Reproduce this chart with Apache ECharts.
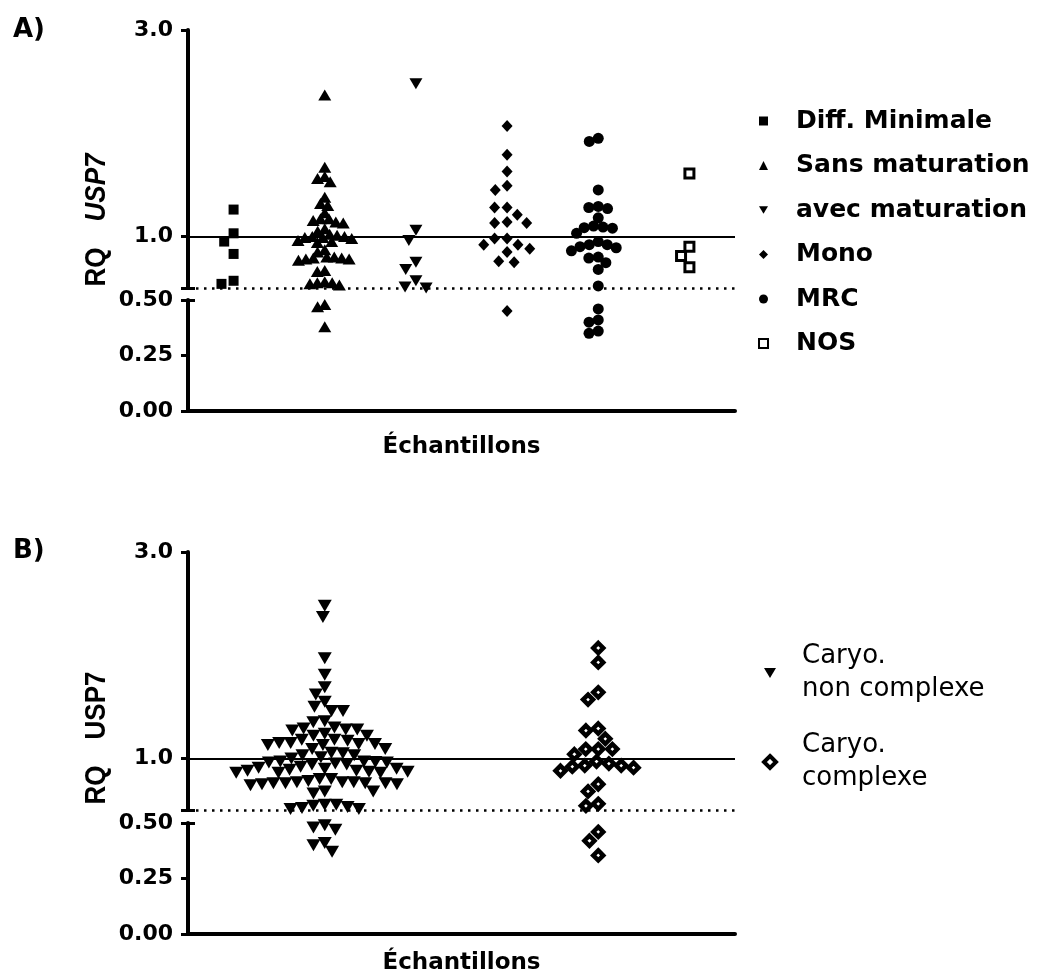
<!DOCTYPE html>
<html>
<head>
<meta charset="utf-8">
<title>RQ USP7</title>
<script src="https://cdn.jsdelivr.net/npm/echarts@6.0.0/dist/echarts.min.js"></script>
<style>
  html, body { margin: 0; padding: 0; background: #fff; }
  #chart { width: 1054px; height: 979px; }
</style>
</head>
<body>
<div id="chart"></div>
<script>
// ---- données (RQ) ----
// A) sous-types
const groupsA = ['Diff. Minimale', 'Sans maturation', 'avec maturation', 'Mono', 'MRC', 'NOS'];
const diffMinimale = [1.26, 1.03, 0.95, 0.83, 0.57, 0.54];
const sansMaturation = [2.37, 1.67, 1.58, 1.56, 1.53, 1.38, 1.32, 1.30, 1.23, 1.17, 1.17, 1.155, 1.14, 1.13,
  1.075, 1.05, 1.02, 1.01, 1.0, 1.0, 0.99, 0.99, 0.98, 0.96, 0.95, 0.94, 0.87, 0.85, 0.80, 0.80, 0.79, 0.79,
  0.78, 0.78, 0.77, 0.67, 0.66, 0.56, 0.55, 0.55, 0.54, 0.53, 0.48, 0.47, 0.38];
const avecMaturation = [2.48, 1.06, 0.96, 0.75, 0.68, 0.57, 0.51, 0.50];
const mono = [2.07, 1.79, 1.63, 1.49, 1.45, 1.28, 1.28, 1.21, 1.14, 1.13, 1.13, 0.98, 0.98, 0.92, 0.92, 0.88,
  0.85, 0.76, 0.75, 0.45];
const mrc = [1.95, 1.92, 1.45, 1.29, 1.28, 1.27, 1.18, 1.10, 1.09, 1.085, 1.08, 1.03, 0.95, 0.92, 0.92, 0.90,
  0.89, 0.86, 0.80, 0.79, 0.745, 0.68, 0.52, 0.46, 0.41, 0.40, 0.36, 0.35];
const nos = [1.61, 0.90, 0.81, 0.70];

// B) caryotype
const groupsB = ['Caryo. non complexe', 'Caryo. complexe'];
const nonComplexe = [2.48, 2.37, 1.97, 1.81, 1.69, 1.62, 1.55, 1.50, 1.46, 1.46, 1.36, 1.35, 1.30, 1.29, 1.28,
  1.28, 1.27, 1.24, 1.22, 1.22, 1.18, 1.18, 1.17, 1.15, 1.15, 1.14, 1.14, 1.13, 1.13, 1.09, 1.09, 1.055, 1.05,
  1.03, 1.03, 1.01, 1.0, 0.97, 0.97, 0.965, 0.96, 0.96, 0.95, 0.94, 0.94, 0.92, 0.91, 0.90, 0.90, 0.89, 0.88,
  0.88, 0.87, 0.87, 0.86, 0.86, 0.86, 0.80, 0.80, 0.78, 0.77, 0.77, 0.77, 0.76, 0.76, 0.76, 0.76, 0.75, 0.75,
  0.74, 0.68, 0.68, 0.66, 0.55, 0.55, 0.54, 0.53, 0.52, 0.51, 0.51, 0.49, 0.48, 0.47, 0.41, 0.40, 0.37];
const complexe = [2.07, 1.93, 1.64, 1.57, 1.29, 1.27, 1.19, 1.09, 1.09, 1.09, 1.04, 0.97, 0.95, 0.93, 0.93,
  0.92, 0.91, 0.88, 0.75, 0.68, 0.56, 0.54, 0.46, 0.42, 0.354];

// axe coupé : segment haut 0.5-3.0, segment bas 0-0.5
const BREAK = 0.5, YMAX = 3.0;
const upperTicks = [1, 3];
const lowerTicks = [0, 0.25, 0.5];

// ---- mise en page ----
const LEFT = 188, WIDTH = 547;
const panels = [
  { top: 30, upperH: 258, lowerTop: 300, lowerH: 111, cols: 6, gap: 12.5, maxHalf: 27, italic: true, labelY: 220 },
  { top: 552, upperH: 258, lowerTop: 823, lowerH: 111, cols: 2, gap: 12.5, maxHalf: 90, italic: false, labelY: 738 }
];
const BOLD = '"DejaVu Sans", sans-serif';
const DOWN = 'path://M0,0L12,0L6,10Z';

// position verticale en px (pour l'écartement des points seulement)
function yPx(p, v) {
  if (v >= BREAK) return (YMAX - v) / (YMAX - BREAK) * p.upperH;
  return (p.lowerTop - p.top) + (BREAK - v) / BREAK * p.lowerH;
}

// beeswarm simple : chaque point va à la place libre la plus proche du centre
function place(p, values, gap) {
  const placed = [];
  values.slice().sort((a, b) => b - a).forEach(v => {
    const y = yPx(p, v);
    const blocks = [];
    const cands = [0];
    placed.forEach(q => {
      const dy = Math.abs(q.y - y);
      if (dy < gap) {
        const w = Math.sqrt(gap * gap - dy * dy);
        blocks.push([q.x - w, q.x + w]);
        cands.push(q.x - w, q.x + w);
      }
    });
    cands.sort((a, b) => Math.abs(a) - Math.abs(b) || a - b);
    const x = cands.find(c => blocks.every(b => c <= b[0] + 1e-6 || c >= b[1] - 1e-6));
    placed.push({ x: x, y: y, v: v });
  });
  return placed;
}
// on resserre l'écart tant que la colonne déborde de sa largeur
function swarm(p, values, center) {
  let gap = p.gap, placed = place(p, values, gap);
  while (gap > 5 && Math.max.apply(null, placed.map(q => Math.abs(q.x))) > p.maxHalf) {
    gap -= 0.25;
    placed = place(p, values, gap);
  }
  const pxPerX = WIDTH / p.cols;
  return placed.map(q => [center + q.x / pxPerX, q.v]);
}

const black = '#000';
const stylesA = [
  { symbol: 'rect', symbolSize: 10, itemStyle: { color: black, opacity: 1 } },
  { symbol: 'triangle', symbolSize: [13, 11], itemStyle: { color: black, opacity: 1 } },
  { symbol: DOWN, symbolSize: [13, 11], itemStyle: { color: black, opacity: 1 } },
  { symbol: 'diamond', symbolSize: [11, 12], itemStyle: { color: black, opacity: 1 } },
  { symbol: 'circle', symbolSize: 11, itemStyle: { color: black, opacity: 1 } },
  { symbol: 'rect', symbolSize: 9, itemStyle: { color: '#fff', borderColor: black, borderWidth: 3, opacity: 1 } }
];
const stylesB = [
  { symbol: DOWN, symbolSize: [14, 12], itemStyle: { color: black, opacity: 1 } },
  { symbol: 'diamond', symbolSize: 10, itemStyle: { color: '#fff', borderColor: black, borderWidth: 4.5, opacity: 1 } }
];

const series = [];
function addGroup(pi, name, values, col, style) {
  const pts = swarm(panels[pi], values, col + 0.5);
  const base = { type: 'scatter', name: name, clip: false, silent: true };
  series.push(Object.assign({}, base, style, {
    xAxisIndex: 2 * pi, yAxisIndex: 2 * pi, data: pts.filter(d => d[1] >= BREAK)
  }));
  series.push(Object.assign({}, base, style, {
    xAxisIndex: 2 * pi + 1, yAxisIndex: 2 * pi + 1, data: pts.filter(d => d[1] < BREAK)
  }));
}
[diffMinimale, sansMaturation, avecMaturation, mono, mrc, nos].forEach((vals, i) => addGroup(0, groupsA[i], vals, i, stylesA[i]));
[nonComplexe, complexe].forEach((vals, i) => addGroup(1, groupsB[i], vals, i, stylesB[i]));

// lignes de référence 1.0 (continue) et 0.5 (pointillée)
[0, 1].forEach(pi => {
  series.push({
    type: 'scatter', name: 'ref' + pi, xAxisIndex: 2 * pi, yAxisIndex: 2 * pi, data: [],
    markLine: {
      silent: true, symbol: 'none', label: { show: false }, animation: false,
      data: [
        { yAxis: 1, lineStyle: { color: black, width: 2, type: 'solid' } },
        { yAxis: BREAK, lineStyle: { color: black, width: 2.5, type: [2.5, 5.5] } }
      ]
    }
  });
});

const grids = [], xAxes = [], yAxes = [], capAxes = [];
const labelStyle = { color: black, fontFamily: BOLD, fontWeight: 'bold', fontSize: 22 };
panels.forEach((p, pi) => {
  grids.push({ left: LEFT, width: WIDTH, top: p.top, height: p.upperH });
  grids.push({ left: LEFT, width: WIDTH, top: p.lowerTop, height: p.lowerH });
  xAxes.push({ gridIndex: 2 * pi, type: 'value', min: 0, max: p.cols, show: false });
  xAxes.push({
    gridIndex: 2 * pi + 1, type: 'value', min: 0, max: p.cols,
    axisLine: { show: true, onZero: false, lineStyle: { color: black, width: 4 } },
    axisTick: { show: false }, axisLabel: { show: false }, splitLine: { show: false },
    name: 'Échantillons', nameLocation: 'middle', nameGap: pi === 0 ? 22 : 15,
    nameTextStyle: { color: black, fontFamily: BOLD, fontWeight: 'bold', fontSize: 23, lineHeight: 28 }
  });
  const axisCommon = {
    type: 'value', position: 'left', splitLine: { show: false },
    axisLine: { show: true, lineStyle: { color: black, width: 4 } }
  };
  yAxes.push(Object.assign({}, axisCommon, {
    gridIndex: 2 * pi, min: BREAK, max: YMAX,
    axisTick: { show: true, length: 7, customValues: [BREAK].concat(upperTicks), lineStyle: { color: black, width: 3 } },
    axisLabel: Object.assign({ customValues: upperTicks, margin: 15, formatter: v => v.toFixed(1) }, labelStyle)
  }));
  yAxes.push(Object.assign({}, axisCommon, {
    gridIndex: 2 * pi + 1, min: 0, max: BREAK,
    axisTick: { show: true, length: 7, customValues: lowerTicks, lineStyle: { color: black, width: 3 } },
    axisLabel: Object.assign({ customValues: lowerTicks, margin: 15, formatter: v => v.toFixed(2) }, labelStyle)
  }));
  // petits traits de la coupure, côté intérieur
  [2 * pi, 2 * pi + 1].forEach((g, k) => {
    capAxes.push({
      type: 'value', position: 'left', offset: 0, gridIndex: g,
      min: k === 0 ? BREAK : 0, max: k === 0 ? YMAX : BREAK,
      axisLine: { show: false }, axisLabel: { show: false }, splitLine: { show: false },
      axisTick: { show: true, inside: true, length: 7, customValues: [BREAK], lineStyle: { color: black, width: 3 } }
    });
  });
});

const chart = echarts.init(document.getElementById('chart'), null, { renderer: 'canvas' });
chart.setOption({
  backgroundColor: '#fff',
  animation: false,
  grid: grids,
  xAxis: xAxes,
  yAxis: yAxes.concat(capAxes),
  legend: [
    {
      data: groupsA, orient: 'vertical', left: 758, top: 108, padding: 0,
      itemWidth: 9, itemHeight: 9, itemGap: 18.5, selectedMode: false,
      textStyle: { color: black, fontFamily: BOLD, fontWeight: 'bold', fontSize: 25, lineHeight: 26, padding: [0, 0, 0, 23] }
    },
    {
      data: [groupsB[0], { name: groupsB[1], itemStyle: { borderWidth: 4 } }],
      orient: 'vertical', left: 762, top: 640, padding: 0,
      itemWidth: 12, itemHeight: 12, itemGap: 23, selectedMode: false,
      formatter: name => name.replace('. ', '.\n'),
      textStyle: { color: black, fontFamily: '"DejaVu Sans", sans-serif', fontSize: 26, lineHeight: 33, padding: [0, 0, 0, 21] }
    }
  ],
  graphic: [
    { type: 'text', left: 13, top: 17, style: { text: 'A)', fill: black, font: 'bold 26px "DejaVu Sans"' } },
    { type: 'text', left: 13, top: 538, style: { text: 'B)', fill: black, font: 'bold 26px "DejaVu Sans"' } }
  ].concat(panels.map(p => ({
    type: 'text', x: 97, y: p.labelY, rotation: Math.PI / 2, scaleY: 1.17,
    style: {
      text: '{r|RQ}{s|}{u|USP7}', align: 'center', verticalAlign: 'middle',
      textAlign: 'center', textVerticalAlign: 'middle',
      rich: {
        r: { fontFamily: '"Liberation Sans"', fontWeight: 'bold', fontSize: 26, fill: black, color: black },
        s: { width: 26 },
        u: { fontFamily: '"Liberation Sans"', fontWeight: 'bold', fontSize: 26, fontStyle: p.italic ? 'italic' : 'normal', fill: black, color: black }
      }
    }
  }))),
  series: series
});
window.onresize = chart.resize;
</script>
</body>
</html>
